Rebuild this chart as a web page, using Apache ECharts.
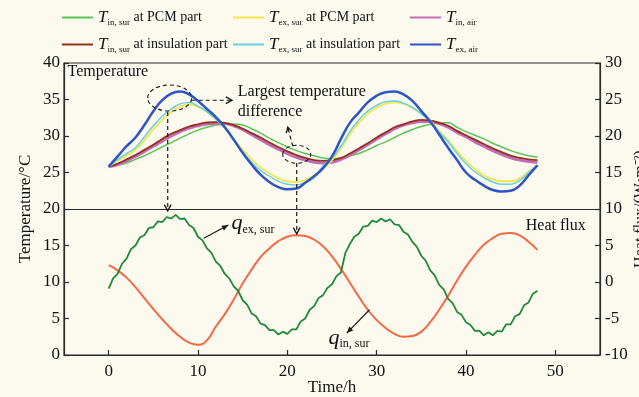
<!DOCTYPE html>
<html><head><meta charset="utf-8">
<script src="https://cdn.jsdelivr.net/npm/echarts@6/dist/echarts.min.js"></script>
<style>html,body{margin:0;padding:0;background:#fcf9ef}#c{width:639px;height:397px}</style>
</head><body><div id="c"></div>
<script>
// ---------- DATA ----------
const hours = [0,1,2,3,4,5,6,7,8,9,10,11,12,13,14,15,16,17,18,19,20,21,22,23,24,25,26,27,28,29,30,31,32,33,34,35,36,37,38,39,40,41,42,43,44,45,46,47,48];
// temperatures (°C, left axis)
const tInSurPCM = [25.8,26.0,26.3,26.8,27.3,27.9,28.5,29.1,29.7,30.3,30.8,31.2,31.5,31.6,31.65,31.5,31.0,30.4,29.7,29.1,28.5,28.0,27.6,27.3,27.0,26.9,27.0,27.3,27.6,28.1,28.7,29.2,29.8,30.4,30.9,31.3,31.6,31.8,31.8,31.2,30.6,30.1,29.6,29.0,28.5,28.0,27.6,27.3,27.1];
const tExSurPCM = [25.8,26.6,27.3,28.1,29.4,30.9,32.2,33.3,34.0,34.3,34.0,33.3,32.3,31.2,29.6,28.1,26.8,25.7,24.9,24.2,23.8,23.7,24.0,24.6,25.5,26.7,28.3,30.2,31.8,33.0,33.9,34.4,34.6,34.4,33.9,33.1,32.1,30.7,29.4,27.9,26.6,25.5,24.6,24.1,23.8,23.8,24.2,25.1,26.0];
const tInAir = [25.8,26.1,26.6,27.2,27.9,28.6,29.3,30.0,30.6,31.1,31.4,31.65,31.75,31.7,31.4,30.9,30.2,29.5,28.8,28.2,27.6,27.1,26.7,26.4,26.3,26.4,26.8,27.4,28.1,28.8,29.6,30.3,31.0,31.5,31.8,32.0,32.0,31.7,31.2,30.5,29.9,29.2,28.6,28.0,27.5,27.0,26.7,26.5,26.4];
const tInSurIns = [25.8,26.2,26.8,27.4,28.1,28.8,29.6,30.3,30.8,31.3,31.6,31.85,31.9,31.8,31.5,31.0,30.4,29.8,29.1,28.5,27.9,27.4,27.0,26.7,26.6,26.7,27.0,27.6,28.3,29.0,29.8,30.5,31.2,31.6,32.0,32.2,32.1,31.8,31.4,30.7,30.1,29.5,28.9,28.3,27.8,27.3,27.0,26.8,26.7];
const tExSurIns = [25.8,26.8,27.6,28.4,29.9,31.4,32.7,33.7,34.4,34.6,34.1,33.3,32.3,31.1,29.4,27.8,26.4,25.3,24.5,23.8,23.4,23.3,23.6,24.3,25.9,27.0,28.6,30.6,32.2,33.4,34.2,34.7,34.8,34.5,33.9,33.0,32.0,30.5,29.2,27.6,26.2,25.1,24.3,23.7,23.4,23.4,23.9,25.0,26.0];
const tExAir = [25.8,27.2,28.6,29.8,31.5,33.4,34.9,35.8,36.1,35.7,34.8,33.7,32.6,31.2,29.5,27.7,26.1,24.7,23.7,23.0,22.7,22.8,23.6,24.5,25.6,27.2,29.6,31.8,33.2,34.6,35.5,36.0,36.1,35.7,34.8,33.4,32.0,30.2,28.4,26.7,25.0,24.0,23.2,22.6,22.4,22.5,23.2,24.6,26.0];
// heat flux (W/m2, right axis)
const halfHours = [0,0.5,1,1.5,2,2.5,3,3.5,4,4.5,5,5.5,6,6.5,7,7.5,8,8.5,9,9.5,10,10.5,11,11.5,12,12.5,13,13.5,14,14.5,15,15.5,16,16.5,17,17.5,18,18.5,19,19.5,20,20.5,21,21.5,22,22.5,23,23.5,24,24.5,25,25.5,26,26.5,27,27.5,28,28.5,29,29.5,30,30.5,31,31.5,32,32.5,33,33.5,34,34.5,35,35.5,36,36.5,37,37.5,38,38.5,39,39.5,40,40.5,41,41.5,42,42.5,43,43.5,44,44.5,45,45.5,46,46.5,47,47.5,48];
const qExSur = [-0.9,0.5,1.1,2.5,3.2,4.5,5.0,6.1,6.4,7.4,7.5,8.3,8.2,8.9,8.7,9.2,8.6,8.7,7.8,7.4,6.2,5.7,4.6,4.0,2.8,2.2,1.1,0.5,-0.6,-1.2,-2.5,-3.1,-4.3,-4.7,-5.7,-5.9,-6.6,-6.6,-7.2,-6.8,-7.1,-6.5,-6.5,-5.4,-5.0,-3.8,-3.3,-2.2,-1.8,-0.8,-0.3,0.8,1.3,4.0,5.2,6.2,6.6,7.6,7.7,8.4,8.2,8.7,8.3,8.6,7.9,7.8,6.9,6.5,5.5,4.8,3.6,2.9,1.6,0.9,-0.4,-1.0,-2.3,-2.9,-4.1,-4.5,-5.5,-5.9,-6.7,-6.7,-7.3,-6.9,-7.3,-6.7,-6.8,-5.8,-5.8,-4.7,-4.4,-3.2,-2.8,-1.6,-1.2];
const qInSur = [2.3,1.6,0.6,-0.7,-2.2,-3.7,-5.1,-6.4,-7.5,-8.3,-8.6,-8.0,-6.1,-4.4,-2.4,-0.2,1.7,3.4,4.6,5.6,6.2,6.4,6.3,5.8,4.9,3.5,1.8,-0.1,-2.0,-3.8,-5.2,-6.3,-7.1,-7.5,-7.4,-6.8,-5.5,-3.8,-1.9,0.2,2.1,3.7,5.1,6.0,6.6,6.7,6.4,5.5,4.4];
// ticks
const xTicks = [0,10,20,30,40,50];

// ---------- CHART ----------
const FONT = "'Liberation Serif','Times New Roman',serif";
const INK = '#2b2b2b';
const chart = echarts.init(document.getElementById('c'), null, {renderer:'canvas'});
const pairs = (xs, ys) => xs.map((x,i)=>[x, ys[i]]);

const seriesDefs = [
  {name:'TinPCM', data:tInSurPCM, color:'#5cc45a', w:1.5},
  {name:'TinAir', data:tInAir, color:'#c46cb6', w:3},
  {name:'TinIns', data:tInSurIns, color:'#93321f', w:1.8},
  {name:'TexPCM', data:tExSurPCM, color:'#f2e64a', w:1.8},
  {name:'TexIns', data:tExSurIns, color:'#67d0e2', w:1.5},
  {name:'TexAir', data:tExAir, color:'#2e55c4', w:2.5}
];
const legendText = {
  TinPCM:'{T|T}{s|in, sur}{n| at PCM part}',
  TexPCM:'{T|T}{s|ex, sur}{n| at PCM part}',
  TinAir:'{T|T}{s|in, air}',
  TinIns:'{T|T}{s|in, sur}{n| at insulation part}',
  TexIns:'{T|T}{s|ex, sur}{n| at insulation part}',
  TexAir:'{T|T}{s|ex, air}'
};
const legendPos = {
  TinPCM:[62,9], TexPCM:[233,9], TinAir:[410,9],
  TinIns:[62,36], TexIns:[233,36], TexAir:[410,36]
};
const rich = {
  T:{fontFamily:FONT, fontStyle:'italic', fontSize:17, lineHeight:20, color:'#111', verticalAlign:'middle'},
  s:{fontFamily:FONT, fontSize:9, lineHeight:11, color:'#111', verticalAlign:'bottom'},
  n:{fontFamily:FONT, fontSize:14, lineHeight:20, color:'#111', verticalAlign:'middle'}
};
const legends = Object.keys(legendPos).map(k => ({
  data:[k], left:legendPos[k][0], top:legendPos[k][1], padding:0,
  icon:'rect', itemWidth:31, itemHeight:2, selectedMode:false,
  formatter: n => legendText[n], textStyle:{rich}
}));

const series = seriesDefs.map(d => ({
  name:d.name, type:'line', data:pairs(hours, d.data), yAxisIndex:0,
  smooth:true, symbol:'none', color:d.color,
  lineStyle:{width:d.w, color:d.color}, itemStyle:{color:d.color}, z:3
}));
series.push({
  name:'qin', type:'line', data:pairs(hours, qInSur), yAxisIndex:1,
  smooth:true, symbol:'none', lineStyle:{width:2, color:'#f26a43'}, z:3
});
series.push({
  name:'qex', type:'line', data:pairs(halfHours, qExSur), yAxisIndex:1,
  smooth:false, symbol:'none', lineStyle:{width:1.8, color:'#1e8a3a'}, z:3,
  markLine:{silent:true, symbol:'none', label:{show:false},
    lineStyle:{type:'solid', color:INK, width:1.2},
    data:[{yAxis:10}]}
});

const axisBase = {
  axisLine:{show:true, onZero:false, lineStyle:{color:INK, width:1.2}},
  axisTick:{show:true, inside:true, length:5, lineStyle:{color:INK, width:1.2}},
  splitLine:{show:false},
  nameMoveOverlap:false,
  axisLabel:{fontFamily:FONT, fontSize:17, color:'#111'},
  nameTextStyle:{fontFamily:FONT, fontSize:17, color:'#111'}
};

chart.setOption({
  backgroundColor:'#fcf9ef',
  animation:false,
  grid:{left:64, right:39, top:63, bottom:42, outerBoundsMode:'none', containLabel:false,
    show:true, borderColor:INK, borderWidth:1.2, backgroundColor:'transparent'},
  legend:legends,
  xAxis:Object.assign({}, axisBase, {
    type:'value', min:-5, max:55, interval:5,
    name:'Time/h', nameLocation:'middle', nameGap:24,
    axisTick:Object.assign({}, axisBase.axisTick, {customValues:xTicks}),
    axisLabel:Object.assign({}, axisBase.axisLabel, {customValues:xTicks, margin:8})
  }),
  yAxis:[
    Object.assign({}, axisBase, {
      type:'value', min:0, max:40, interval:5, position:'left',
      name:'Temperature/°C', nameLocation:'middle', nameGap:30, nameRotate:90,
      axisLabel:Object.assign({}, axisBase.axisLabel, {margin:4})
    }),
    Object.assign({}, axisBase, {
      type:'value', min:-10, max:30, interval:5, position:'right',
      name:'Heat flux/(W·m⁻²)', nameLocation:'middle', nameGap:33, nameRotate:90,
      nameTextStyle:{fontFamily:FONT, fontSize:16, color:'#111'},
      axisLabel:Object.assign({}, axisBase.axisLabel, {margin:5})
    })
  ],
  series
});

// ---------- ANNOTATIONS (anchored in data coordinates) ----------
const P = (t, v) => chart.convertToPixel({xAxisIndex:0, yAxisIndex:0}, [t, v]);
const ST = '#1a1a1a';
const dash = [4,3];
function line(a, b, dashed) {
  return {type:'line', z:50, shape:{x1:a[0], y1:a[1], x2:b[0], y2:b[1]},
    style:{stroke:ST, lineWidth:1.2, lineDash:dashed?dash:null}};
}
function chevron(a, b, size) {
  const ang = Math.atan2(b[1]-a[1], b[0]-a[0]);
  const p1 = [b[0]-size*Math.cos(ang-0.5), b[1]-size*Math.sin(ang-0.5)];
  const p2 = [b[0]-size*Math.cos(ang+0.5), b[1]-size*Math.sin(ang+0.5)];
  return {type:'polyline', z:50, shape:{points:[p1, b, p2]}, style:{stroke:ST, lineWidth:1.4, fill:null}};
}
function head(a, b, size) {
  const ang = Math.atan2(b[1]-a[1], b[0]-a[0]);
  const p1 = [b[0]-size*Math.cos(ang-0.4), b[1]-size*Math.sin(ang-0.4)];
  const p2 = [b[0]-size*Math.cos(ang+0.4), b[1]-size*Math.sin(ang+0.4)];
  return {type:'polygon', z:50, shape:{points:[p1, b, p2]}, style:{fill:ST}};
}
function ellipse(c, rx, ry) {
  return {type:'ellipse', z:50, shape:{cx:c[0], cy:c[1], rx, ry},
    style:{stroke:ST, lineWidth:1.1, lineDash:dash, fill:null}};
}
function text(p, str, align, size, extra) {
  return {type:'text', z:50, x:p[0], y:p[1],
    style:Object.assign({text:str, fontFamily:FONT, fontSize:size, fill:'#111', align:align, verticalAlign:'middle'}, extra||{})};
}
const g = [];
// panel titles
g.push(text(P(-4.6, 38.8), 'Temperature', 'left', 16));
g.push(text(P(53.4, 17.7), 'Heat flux', 'right', 16));
// largest temperature difference
const e1 = P(6.83, 35.2), e2 = P(21.05, 27.5);
g.push(ellipse(e1, 22, 13));
g.push(ellipse(e2, 14, 9));
let a = P(9.3, 34.9), b = P(13.8, 34.9);
g.push(line(a, b, true), chevron(a, b, 7));
g.push(text(P(14.45, 36.0), 'Largest temperature', 'left', 16));
g.push(text(P(14.45, 33.3), 'difference', 'left', 16));
a = P(20.6, 28.6); b = P(20.05, 31.2);
g.push(line(a, b, true), chevron(a, b, 6));
a = P(6.61, 33.3); b = P(6.61, 19.75);
g.push(line(a, b, true), chevron(a, b, 7));
a = P(21.05, 26.3); b = P(21.05, 16.6);
g.push(line(a, b, true), chevron(a, b, 7));
// heat flux labels
const qrich = {
  q:{fontFamily:FONT, fontStyle:'italic', fontSize:22, lineHeight:24, color:'#111', verticalAlign:'middle'},
  s:{fontFamily:FONT, fontSize:12, lineHeight:12, color:'#111', verticalAlign:'bottom'}
};
a = P(10.64, 16.0); b = P(13.4, 17.8);
g.push(line(a, b, false), head(a, b, 7));
g.push(text(P(13.75, 18.0), '{q|q}{s|ex, sur}', 'left', 16, {rich:qrich}));
a = P(29.2, 6.2); b = P(26.65, 3.0);
g.push(line(a, b, false), head(a, b, 7));
g.push(text(P(24.6, 2.3), '{q|q}{s|in, sur}', 'left', 16, {rich:qrich}));

chart.setOption({graphic:g});
</script>
</body></html>
